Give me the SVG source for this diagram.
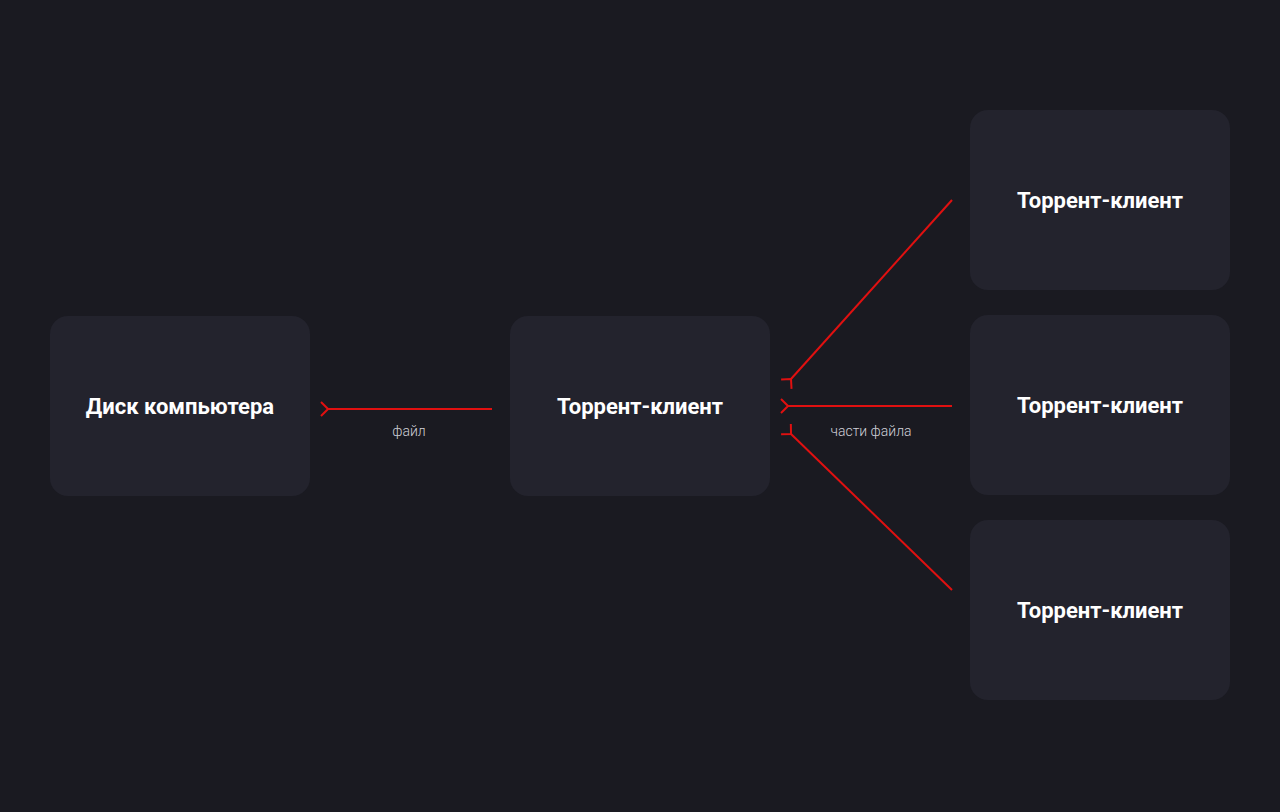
<svg xmlns="http://www.w3.org/2000/svg" width="1280" height="812" viewBox="0 0 1280 812">
<style>
.box{fill:#23232d}
.t{font-family:Roboto,"Liberation Sans",sans-serif;font-weight:bold;font-size:22px;fill:#fff;text-anchor:middle}
.l{font-family:Roboto,"Liberation Sans",sans-serif;font-weight:300;font-size:14px;fill:#d0d0d8;text-anchor:middle}
.c{stroke:#e01010;stroke-width:2;fill:none;marker-end:url(#a)}
</style>
<defs><marker id="a" viewBox="0 0 12 16" refX="1" refY="8" markerWidth="12" markerHeight="16" markerUnits="userSpaceOnUse" orient="auto"><path d="M8,1 L1,8 L8,15" stroke="#e01010" stroke-width="2" fill="none"/></marker></defs>
<rect width="1280" height="812" fill="#1a1a21"/>
<g id="disk"><rect class="box" x="50" y="316" width="260" height="180" rx="18"/><text class="t" x="180" y="414">Диск компьютера</text></g>
<g id="center"><rect class="box" x="510" y="316" width="260" height="180" rx="18"/><text class="t" x="640" y="414">Торрент-клиент</text></g>
<g id="peer1"><rect class="box" x="970" y="110" width="260" height="180" rx="18"/><text class="t" x="1100" y="208">Торрент-клиент</text></g>
<g id="peer2"><rect class="box" x="970" y="315" width="260" height="180" rx="18"/><text class="t" x="1100" y="413">Торрент-клиент</text></g>
<g id="peer3"><rect class="box" x="970" y="520" width="260" height="180" rx="18"/><text class="t" x="1100" y="618">Торрент-клиент</text></g>
<g id="connectors">
<path class="c" d="M492,409 L328,409"/>
<text class="l" x="409" y="436">файл</text>
<path class="c" d="M952,406 L788,406"/>
<text class="l" x="871" y="436">части файла</text>
<path class="c" d="M952,200 L791,379"/>
<path class="c" d="M952,590 L791,434"/>
</g>
</svg>
